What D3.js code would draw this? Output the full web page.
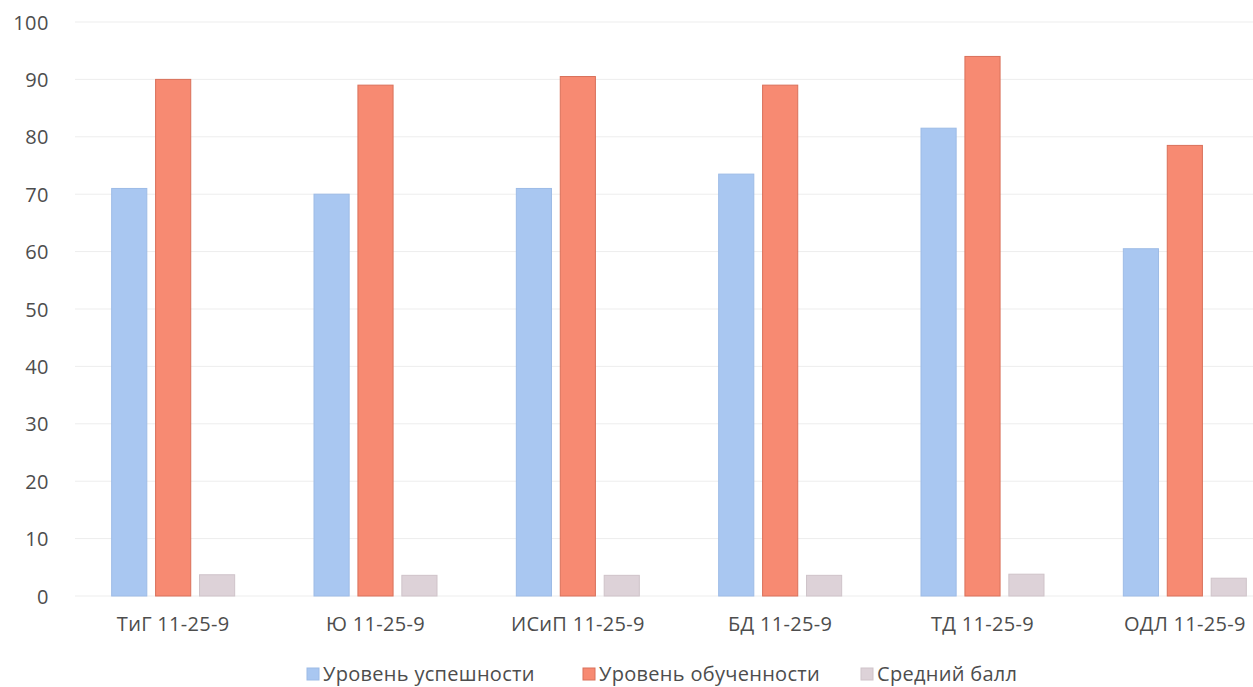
<!DOCTYPE html>
<html><head><meta charset="utf-8">
<script src="https://cdn.jsdelivr.net/npm/d3@7"></script>
<style>body{margin:0;background:#fff}svg{display:block}text{font-family:"Open Sans","Noto Sans",sans-serif;fill:#4d4d4d}</style>
</head><body><svg id="c" width="1253" height="687"></svg>
<script>
const categories = ["ТиГ 11-25-9","Ю 11-25-9","ИСиП 11-25-9","БД 11-25-9","ТД 11-25-9","ОДЛ 11-25-9"];
const seriesNames = ["Уровень успешности","Уровень обученности","Средний балл"];
const uspeshnost = [71, 70, 71, 73.5, 81.5, 60.5];
const obuchennost = [90, 89, 90.5, 89, 94, 78.5];
const sredniyBall = [3.7, 3.6, 3.6, 3.6, 3.8, 3.1];
const yTicks = [0,10,20,30,40,50,60,70,80,90,100];
const colors = ["#a9c7f1","#f78a72","#ddd2d8"];
const strokes = ["#9dbbe6","#d9705a","#cfc3c9"];

const series = [uspeshnost, obuchennost, sredniyBall];
const svg = d3.select("#c");
const y = d3.scaleLinear().domain([0,100]).range([596,22]);
const x0 = d3.scaleBand().domain(categories).range([72,1286]).padding(0);
const x1 = d3.scaleBand().domain(d3.range(3)).range([0,123]).paddingInner(0.2).paddingOuter(0);

svg.append("g").selectAll("line").data(yTicks).join("line")
  .attr("x1",75).attr("x2",1253).attr("y1",d=>y(d)).attr("y2",d=>y(d))
  .attr("stroke","#ededed").attr("stroke-width",1);

const ya = svg.append("g").attr("transform","translate(49,0)")
  .call(d3.axisLeft(y).tickValues(yTicks).tickSize(0).tickPadding(0));
ya.select(".domain").remove();
ya.selectAll("text").style("font-size","20px").style("letter-spacing","0.5px").attr("fill","#4d4d4d").attr("dy","0.35em");

const grp = svg.append("g").selectAll("g").data(categories).join("g")
  .attr("transform",d=>`translate(${x0(d)+(x0.bandwidth()-123)/2},0)`);
grp.selectAll("rect").data((d,i)=>series.map((s,k)=>({k,v:s[i]}))).join("rect")
  .attr("x",d=>x1(d.k)).attr("width",x1.bandwidth())
  .attr("y",d=>y(d.v)).attr("height",d=>y(0)-y(d.v))
  .attr("fill",d=>colors[d.k]).attr("stroke",d=>strokes[d.k]).attr("stroke-width",1);

const xa = svg.append("g").attr("transform","translate(0,613)")
  .call(d3.axisBottom(x0).tickSize(0).tickPadding(0));
xa.select(".domain").remove();
xa.selectAll("text").style("font-size","20px").style("letter-spacing","0.3px").attr("fill","#4d4d4d").attr("dy","0.9em");

const legX = [307, 583, 861];
const leg = svg.append("g").selectAll("g").data(seriesNames).join("g")
  .attr("transform",(d,i)=>`translate(${legX[i]},680)`);
leg.append("rect").attr("x",0).attr("y",-12).attr("width",12).attr("height",12)
  .attr("fill",(d,i)=>colors[i]).attr("stroke",(d,i)=>strokes[i]);
leg.append("text").attr("x",16).attr("y",0).attr("dy","0.05em").style("font-size","20px").style("letter-spacing","0.3px").text(d=>d);
</script></body></html>
